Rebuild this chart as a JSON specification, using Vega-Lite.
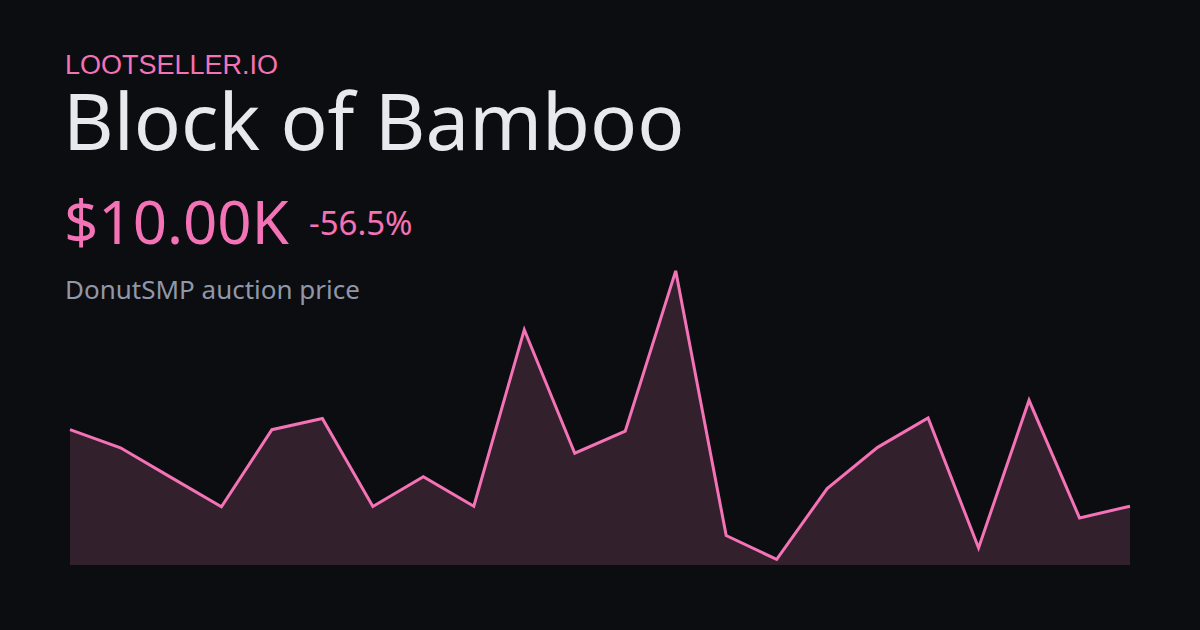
{
  "$schema": "https://vega.github.io/schema/vega-lite/v6.json",
  "autosize": {"type": "none"},
  "width": 1060,
  "height": 300,
  "padding": {"left": 70, "right": 70, "top": 265, "bottom": 65},
  "background": "#0c0d10",
  "config": {"view": {"stroke": null}},
  "data": {
    "values": [
      {"day": 1, "price": 23000},
      {"day": 2, "price": 19930},
      {"day": 3, "price": 14900},
      {"day": 4, "price": 9900},
      {"day": 5, "price": 23000},
      {"day": 6, "price": 24900},
      {"day": 7, "price": 9950},
      {"day": 8, "price": 15000},
      {"day": 9, "price": 10000},
      {"day": 10, "price": 40000},
      {"day": 11, "price": 19000},
      {"day": 12, "price": 22750},
      {"day": 13, "price": 50000},
      {"day": 14, "price": 5000},
      {"day": 15, "price": 950},
      {"day": 16, "price": 13000},
      {"day": 17, "price": 20000},
      {"day": 18, "price": 25000},
      {"day": 19, "price": 2900},
      {"day": 20, "price": 28000},
      {"day": 21, "price": 8000},
      {"day": 22, "price": 10000}
    ]
  },
  "encoding": {
    "x": {"field": "day", "type": "quantitative", "scale": {"domain": [1, 22], "nice": false}, "axis": null},
    "y": {"field": "price", "type": "quantitative", "scale": {"domain": [0, 51000], "nice": false, "zero": true}, "axis": null}
  },
  "layer": [
    {"mark": {"type": "area", "color": "#33202d", "opacity": 1}},
    {"mark": {"type": "line", "color": "#f472b6", "strokeWidth": 3, "strokeJoin": "miter"}},
    {
      "data": {"values": [{"label": "LOOTSELLER.IO"}]},
      "mark": {"type": "text", "font": "Liberation Sans", "fontSize": 27, "color": "#f472b6", "align": "left", "baseline": "alphabetic"},
      "encoding": {"text": {"field": "label"}, "x": {"value": -5}, "y": {"value": -191}}
    },
    {
      "data": {"values": [{"label": "Block of Bamboo"}]},
      "mark": {"type": "text", "font": "Noto Sans", "fontSize": 78, "color": "#e8e9ee", "align": "left", "baseline": "alphabetic"},
      "encoding": {"text": {"field": "label"}, "x": {"value": -7}, "y": {"value": -115}}
    },
    {
      "data": {"values": [{"label": "$10.00K"}]},
      "mark": {"type": "text", "font": "Noto Sans", "fontSize": 60, "color": "#f472b6", "align": "left", "baseline": "alphabetic"},
      "encoding": {"text": {"field": "label"}, "x": {"value": -6}, "y": {"value": -21}}
    },
    {
      "data": {"values": [{"label": "-56.5%"}]},
      "mark": {"type": "text", "font": "Noto Sans", "fontSize": 33, "color": "#f472b6", "align": "left", "baseline": "alphabetic"},
      "encoding": {"text": {"field": "label"}, "x": {"value": 239}, "y": {"value": -30}}
    },
    {
      "data": {"values": [{"label": "DonutSMP auction price"}]},
      "mark": {"type": "text", "font": "Noto Sans", "fontSize": 26, "color": "#9097a8", "align": "left", "baseline": "alphabetic"},
      "encoding": {"text": {"field": "label"}, "x": {"value": -5}, "y": {"value": 34}}
    }
  ]
}
